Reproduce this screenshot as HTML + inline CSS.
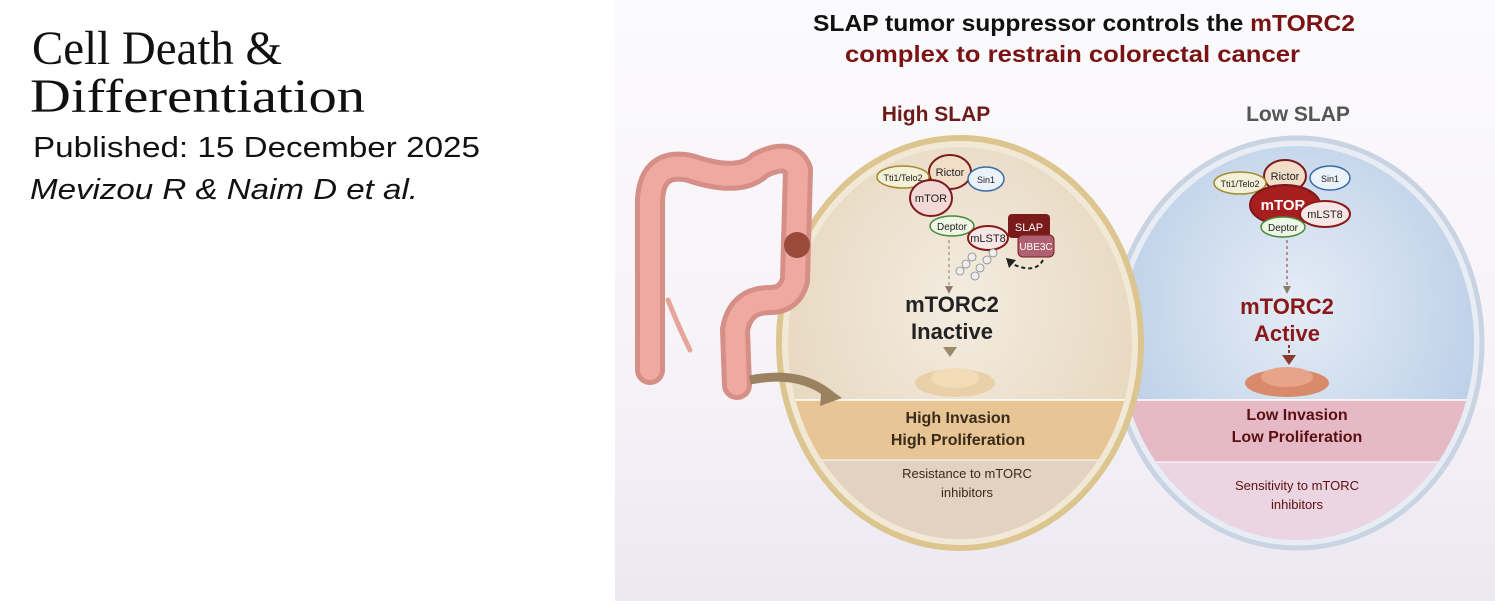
<!DOCTYPE html>
<html><head><meta charset="utf-8"><style>
body{margin:0;width:1495px;height:601px;background:#fff;overflow:hidden;font-family:"Liberation Sans",sans-serif}
</style></head><body>
<svg width="1495" height="601" viewBox="0 0 1495 601" xmlns="http://www.w3.org/2000/svg" font-family="Liberation Sans, sans-serif">
<defs>
<linearGradient id="bg" x1="0" y1="0" x2="0" y2="1"><stop offset="0" stop-color="#fbfafc"/><stop offset="0.6" stop-color="#f6f3f8"/><stop offset="1" stop-color="#ece8f2"/></linearGradient>
<radialGradient id="dl" cx="0.5" cy="0.4" r="0.6"><stop offset="0" stop-color="#f3ece0"/><stop offset="1" stop-color="#e6d6bd"/></radialGradient>
<radialGradient id="dr" cx="0.5" cy="0.4" r="0.6"><stop offset="0" stop-color="#e4ecf6"/><stop offset="1" stop-color="#b9cde6"/></radialGradient>
<clipPath id="cl"><ellipse cx="960" cy="343" rx="172" ry="196"/></clipPath>
<clipPath id="cr"><ellipse cx="1297" cy="343" rx="177" ry="197"/></clipPath>
<marker id="ah" markerWidth="8" markerHeight="8" refX="4" refY="4" orient="auto"><path d="M0,0 L8,4 L0,8z" fill="#8a7a6a"/></marker>
</defs>
<rect x="615" y="0" width="880" height="601" fill="url(#bg)"/>
<text x="32" y="64" font-family="Liberation Serif, serif" font-size="48" fill="#111" textLength="250" lengthAdjust="spacingAndGlyphs">Cell Death &amp;</text>
<text x="30" y="112" font-family="Liberation Serif, serif" font-size="48" fill="#111" textLength="335" lengthAdjust="spacingAndGlyphs">Differentiation</text>
<text x="33" y="157" font-size="29" fill="#111" textLength="447" lengthAdjust="spacingAndGlyphs">Published: 15 December 2025</text>
<text x="30" y="199" font-size="29" font-style="italic" fill="#111" textLength="388" lengthAdjust="spacingAndGlyphs">Mevizou R &amp; Naim D et al.</text>

<text x="813" y="31" font-size="23" font-weight="bold" fill="#111" textLength="542" lengthAdjust="spacingAndGlyphs">SLAP tumor suppressor controls the <tspan fill="#7a1414">mTORC2</tspan></text>
<text x="845" y="62" font-size="23" font-weight="bold" fill="#7a1414" textLength="455" lengthAdjust="spacingAndGlyphs">complex to restrain colorectal cancer</text>
<text x="936" y="121" font-size="21" font-weight="bold" text-anchor="middle" fill="#6e1a1a">High SLAP</text>
<text x="1298" y="121" font-size="21" font-weight="bold" text-anchor="middle" fill="#555">Low SLAP</text>

<!-- right dish -->
<ellipse cx="1297" cy="343" rx="185" ry="205" fill="#e8ecf4" stroke="#c9d3e2" stroke-width="5"/>
<ellipse cx="1297" cy="343" rx="177" ry="197" fill="url(#dr)"/>
<g clip-path="url(#cr)">
<rect x="1100" y="400" width="400" height="62" fill="#e6b9c6"/>
<rect x="1100" y="462" width="400" height="100" fill="#ecd5e2"/>
<line x1="1100" y1="400" x2="1500" y2="400" stroke="#fff" stroke-width="1.5"/>
<line x1="1100" y1="462" x2="1500" y2="462" stroke="#fff" stroke-width="1"/>
</g>
<!-- left dish -->
<ellipse cx="960" cy="343" rx="181" ry="205" fill="#f1e8d6" stroke="#dcc58e" stroke-width="6"/>
<ellipse cx="960" cy="343" rx="172" ry="196" fill="url(#dl)"/>
<g clip-path="url(#cl)">
<rect x="780" y="400" width="400" height="60" fill="#e7c595"/>
<rect x="780" y="460" width="400" height="100" fill="#e2d2c0"/>
<line x1="780" y1="400" x2="1180" y2="400" stroke="#fff" stroke-width="1.5"/>
<line x1="780" y1="460" x2="1180" y2="460" stroke="#fff" stroke-width="1"/>
</g>

<!-- colon -->
<g fill="none" stroke-linecap="round" stroke-linejoin="round">
<path d="M650,370 L650,200 Q652,160 690,168 Q740,185 760,165 Q790,150 798,170 L795,280 Q790,300 770,300 Q740,300 735,330 L737,385" stroke="#d58f86" stroke-width="30"/>
<path d="M650,370 L650,200 Q652,160 690,168 Q740,185 760,165 Q790,150 798,170 L795,280 Q790,300 770,300 Q740,300 735,330 L737,385" stroke="#eeaaa0" stroke-width="20"/>
<path d="M668,300 Q680,330 690,350" stroke="#e6a49a" stroke-width="5"/>
</g>
<circle cx="797" cy="245" r="13" fill="#9a4a3a"/>
<path d="M750,380 Q800,370 830,395" fill="none" stroke="#9a8260" stroke-width="9"/>
<path d="M822,384 L842,398 L820,406z" fill="#9a8260"/>

<!-- left complex -->
<g font-size="11" text-anchor="middle" fill="#222">
<ellipse cx="950" cy="172" rx="21" ry="17" fill="#f2dec8" stroke="#7a1a1a" stroke-width="2"/><text x="950" y="176">Rictor</text>
<ellipse cx="903" cy="177" rx="26" ry="11" fill="#f4f0d8" stroke="#a08a30" stroke-width="1.5"/><text x="903" y="181" font-size="9">Tti1/Telo2</text>
<ellipse cx="986" cy="179" rx="18" ry="12" fill="#eaf2fa" stroke="#3a6aa8" stroke-width="1.5"/><text x="986" y="183" font-size="9">Sin1</text>
<ellipse cx="931" cy="198" rx="21" ry="18" fill="#f2d9d6" stroke="#7a1a1a" stroke-width="2"/><text x="931" y="202">mTOR</text>
<ellipse cx="952" cy="226" rx="22" ry="10" fill="#eef6e6" stroke="#4a8a3a" stroke-width="1.5"/><text x="952" y="230" font-size="10">Deptor</text>
<rect x="1008" y="214" width="42" height="24" rx="4" fill="#7a1a1a"/><text x="1029" y="231" fill="#fff">SLAP</text>
<rect x="1018" y="235" width="36" height="22" rx="5" fill="#b06070" stroke="#7a1a1a"/><text x="1036" y="250" fill="#fff" font-size="10">UBE3C</text>
<ellipse cx="988" cy="238" rx="20" ry="12" fill="#f6e6e6" stroke="#8a1a1a" stroke-width="2"/><text x="988" y="242">mLST8</text>
</g>
<g fill="#eee" stroke="#888" stroke-width="0.8"><circle cx="972" cy="257" r="4"/><circle cx="966" cy="264" r="4"/><circle cx="960" cy="271" r="4"/><circle cx="987" cy="260" r="4"/><circle cx="980" cy="268" r="4"/><circle cx="975" cy="276" r="4"/><circle cx="993" cy="253" r="4"/></g>
<path d="M1043,260 Q1035,275 1010,263" fill="none" stroke="#222" stroke-width="2" stroke-dasharray="4,3"/>
<path d="M1006,258 L1016,260 L1009,268z" fill="#222"/>
<line x1="949" y1="240" x2="949" y2="290" stroke="#8a7a6a" stroke-width="1" stroke-dasharray="3,3" marker-end="url(#ah)"/>
<text x="952" y="312" font-size="22" font-weight="bold" text-anchor="middle" fill="#222">mTORC2</text>
<text x="952" y="339" font-size="22" font-weight="bold" text-anchor="middle" fill="#222">Inactive</text>
<path d="M943,347 L957,347 L950,357z" fill="#9a8a6a"/>
<ellipse cx="955" cy="383" rx="40" ry="14" fill="#ead0a8"/><ellipse cx="955" cy="378" rx="24" ry="10" fill="#f2dcb8"/>
<text x="958" y="423" font-size="16" font-weight="bold" text-anchor="middle" fill="#3a2a1a">High Invasion</text>
<text x="958" y="445" font-size="16" font-weight="bold" text-anchor="middle" fill="#3a2a1a">High Proliferation</text>
<text x="967" y="478" font-size="13" text-anchor="middle" fill="#3a2a1a">Resistance to mTORC</text>
<text x="967" y="497" font-size="13" text-anchor="middle" fill="#3a2a1a">inhibitors</text>

<!-- right complex -->
<g font-size="11" text-anchor="middle" fill="#222">
<ellipse cx="1285" cy="176" rx="21" ry="16" fill="#f2dec8" stroke="#7a1a1a" stroke-width="2"/><text x="1285" y="180">Rictor</text>
<ellipse cx="1240" cy="183" rx="26" ry="11" fill="#f4f0d8" stroke="#a08a30" stroke-width="1.5"/><text x="1240" y="187" font-size="9">Tti1/Telo2</text>
<ellipse cx="1330" cy="178" rx="20" ry="12" fill="#eaf2fa" stroke="#3a6aa8" stroke-width="1.5"/><text x="1330" y="182" font-size="9">Sin1</text>
<ellipse cx="1285" cy="205" rx="35" ry="20" fill="#a81e1e" stroke="#7a1a1a" stroke-width="2"/><text x="1283" y="210" fill="#fff" font-size="15" font-weight="bold">mTOR</text>
<ellipse cx="1283" cy="227" rx="22" ry="10" fill="#eef6e6" stroke="#4a8a3a" stroke-width="1.5"/><text x="1283" y="231" font-size="10">Deptor</text>
<ellipse cx="1325" cy="214" rx="25" ry="13" fill="#f6e6e6" stroke="#8a1a1a" stroke-width="2"/><text x="1325" y="218">mLST8</text>
</g>
<line x1="1287" y1="240" x2="1287" y2="290" stroke="#8a3a2a" stroke-width="1" stroke-dasharray="3,3" marker-end="url(#ah)"/>
<text x="1287" y="314" font-size="22" font-weight="bold" text-anchor="middle" fill="#8a1818">mTORC2</text>
<text x="1287" y="341" font-size="22" font-weight="bold" text-anchor="middle" fill="#8a1818">Active</text>
<line x1="1289" y1="345" x2="1289" y2="356" stroke="#8a3a2a" stroke-width="2" stroke-dasharray="3,2"/>
<path d="M1282,355 L1296,355 L1289,365z" fill="#8a3a2a"/>
<ellipse cx="1287" cy="383" rx="42" ry="14" fill="#d88a6a"/><ellipse cx="1287" cy="377" rx="26" ry="10" fill="#e8a488"/>
<text x="1297" y="420" font-size="16" font-weight="bold" text-anchor="middle" fill="#5a1010">Low Invasion</text>
<text x="1297" y="442" font-size="16" font-weight="bold" text-anchor="middle" fill="#5a1010">Low Proliferation</text>
<text x="1297" y="490" font-size="13" text-anchor="middle" fill="#5a1010">Sensitivity to mTORC</text>
<text x="1297" y="509" font-size="13" text-anchor="middle" fill="#5a1010">inhibitors</text>
</svg>
</body></html>
